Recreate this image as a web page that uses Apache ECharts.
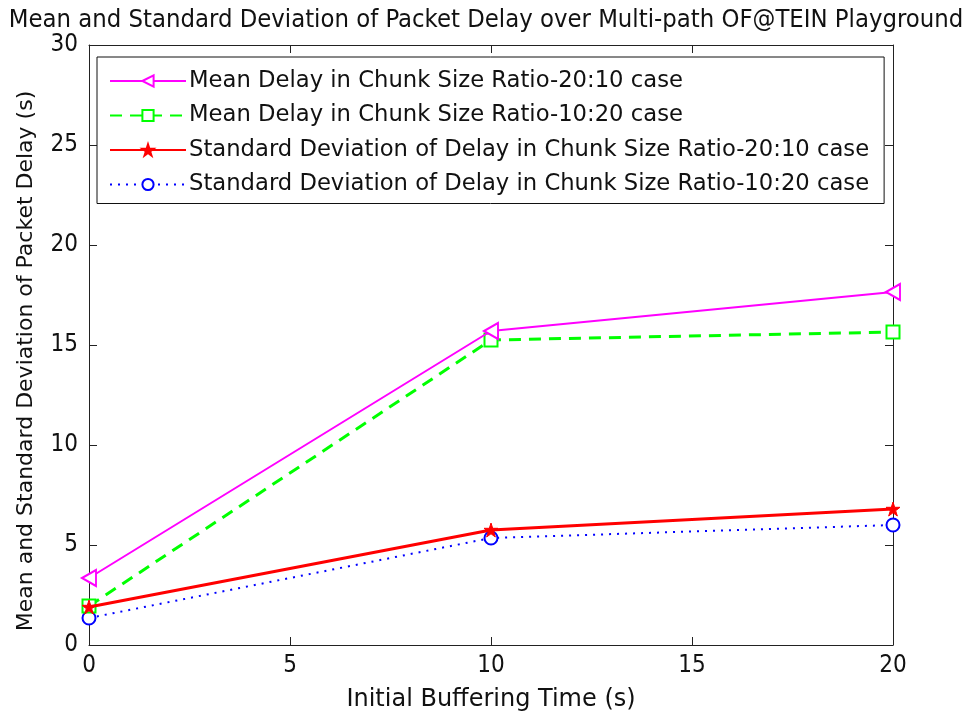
<!DOCTYPE html>
<html>
<head>
<meta charset="utf-8">
<script src="https://cdn.jsdelivr.net/npm/echarts@6/dist/echarts.min.js"></script>
<style>
  html, body { margin: 0; padding: 0; background: #fff; }
  #chart { width: 972px; height: 715px; }
</style>
</head>
<body>
<div id="chart"></div>
<script>
var xValues = [0, 10, 20]
var mean2010 = [3.35, 15.7, 17.65]
var mean1020 = [1.95, 15.25, 15.65]
var std2010 = [1.9, 5.75, 6.8]
var std1020 = [1.35, 5.35, 6.0]
var seriesNames = [
  'Mean Delay in Chunk Size Ratio-20:10 case',
  'Mean Delay in Chunk Size Ratio-10:20 case',
  'Standard Deviation of Delay in Chunk Size Ratio-20:10 case',
  'Standard Deviation of Delay in Chunk Size Ratio-10:20 case'
]

function pairs(ys) {
  return xValues.map(function(x, i) { return [x, ys[i]] })
}

var triLeft = 'path://M0,5 L10,0 L10,10 Z'
var star = 'path://M5,0 L6.2,3.6 L10,3.6 L6.9,5.9 L8.1,9.5 L5,7.3 L1.9,9.5 L3.1,5.9 L0,3.6 L3.8,3.6 Z'
var font = 'DejaVu Sans'
var narrow = '"DejaVu Sans Condensed", "Liberation Sans", sans-serif'

var chart = echarts.init(document.getElementById('chart'))
var inTick = {show: true, inside: true, length: 8, lineStyle: {color: '#222', width: 1}}
var axLine = {show: true, onZero: false, lineStyle: {color: '#222', width: 1}}

var option = {
  animation: false,
  backgroundColor: '#fff',
  title: {
    text: 'Mean and Standard Deviation of Packet Delay over Multi-path OF@TEIN Playground',
    left: 'center',
    top: 3,
    textStyle: {fontFamily: narrow, fontSize: 25.4, fontWeight: 'normal', color: '#111'}
  },
  grid: {left: 89, right: 79, top: 45, bottom: 70, containLabel: false, outerBoundsMode: 'none'},
  legend: {
    orient: 'vertical',
    left: 97,
    top: 57,
    padding: [12, 15, 7, 12],
    itemGap: 10.5,
    itemWidth: 76,
    itemHeight: 14,
    borderColor: '#111',
    borderWidth: 1,
    backgroundColor: '#fff',
    textStyle: {fontFamily: font, fontSize: 22.7, lineHeight: 24, color: '#111', padding: [0, 0, 0, -2]},
    data: seriesNames
  },
  xAxis: [{
    type: 'value', min: 0, max: 20, interval: 5,
    name: 'Initial Buffering Time (s)', nameLocation: 'middle', nameGap: 43,
    nameTextStyle: {fontFamily: font, fontSize: 24, color: '#111'},
    axisLine: axLine,
    axisTick: inTick,
    axisLabel: {fontFamily: narrow, fontSize: 24, color: '#111', margin: 9},
    splitLine: {show: false}
  }, {
    type: 'value', min: 0, max: 20, interval: 5, position: 'top',
    axisLine: axLine, axisTick: inTick, axisLabel: {show: false}, splitLine: {show: false}
  }],
  yAxis: [{
    type: 'value', min: 0, max: 30, interval: 5,
    name: 'Mean and Standard Deviation of Packet Delay (s)', nameLocation: 'middle', nameGap: 52,
    nameTextStyle: {fontFamily: font, fontSize: 22, color: '#111', padding: [0, 32, 0, 0]},
    axisLine: axLine,
    axisTick: inTick,
    axisLabel: {fontFamily: narrow, fontSize: 24, color: '#111', margin: 11},
    splitLine: {show: false}
  }, {
    type: 'value', min: 0, max: 30, interval: 5, position: 'right',
    axisLine: axLine, axisTick: inTick, axisLabel: {show: false}, splitLine: {show: false}
  }],
  series: [{
    name: seriesNames[0], type: 'line', data: pairs(mean2010),
    symbol: triLeft, symbolSize: [14, 16], z: 4,
    lineStyle: {color: '#ff00ff', width: 2},
    itemStyle: {color: '#fff', borderColor: '#ff00ff', borderWidth: 2}
  }, {
    name: seriesNames[1], type: 'line', data: pairs(mean1020),
    symbol: 'rect', symbolSize: 13, z: 3,
    lineStyle: {color: '#00ff00', width: 3, type: [12, 8]},
    itemStyle: {color: '#fff', borderColor: '#00ff00', borderWidth: 2}
  }, {
    name: seriesNames[2], type: 'line', data: pairs(std2010),
    symbol: star, symbolSize: 14, z: 5,
    lineStyle: {color: '#ff0000', width: 3},
    itemStyle: {color: '#ff0000', borderColor: '#ff0000', borderWidth: 1}
  }, {
    name: seriesNames[3], type: 'line', data: pairs(std1020),
    symbol: 'emptyCircle', symbolSize: 13, z: 2,
    lineStyle: {color: '#0000ff', width: 2, type: [2, 6]},
    itemStyle: {color: '#0000ff', borderColor: '#0000ff', borderWidth: 2}
  }]
}

chart.setOption(option)
</script>
</body>
</html>
